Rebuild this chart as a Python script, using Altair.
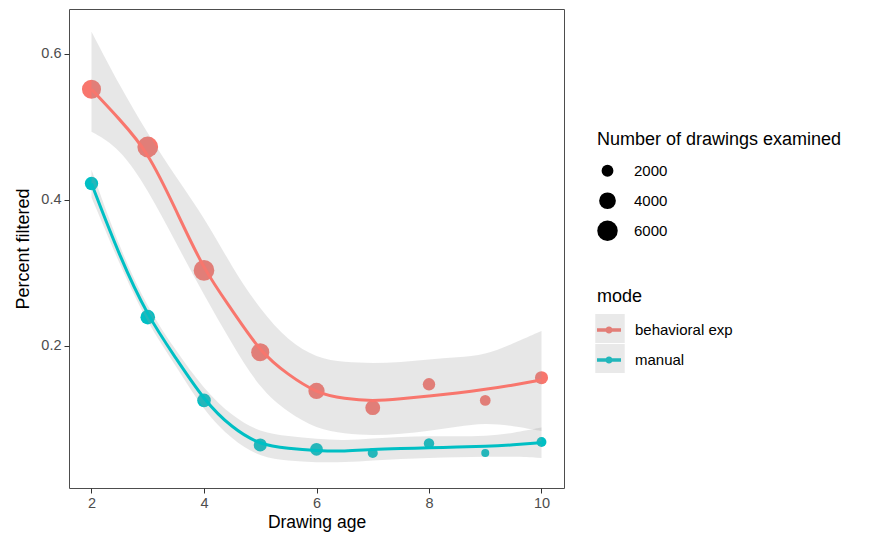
import altair as alt
import pandas as pd

# ---- data ----
modes = ["behavioral exp", "manual"]
colors = ["#F8766D", "#00BFC4"]

ages = [2, 3, 4, 5, 6, 7, 8, 9, 10]
beh_pct = [0.551, 0.472, 0.303, 0.191, 0.138, 0.115, 0.147, 0.125, 0.156]
man_pct = [0.422, 0.239, 0.125, 0.064, 0.058, 0.053, 0.066, 0.053, 0.068]
beh_n = [5200, 6200, 6100, 4700, 3800, 3150, 2200, 1650, 2450]
man_n = [2550, 3050, 2650, 2450, 2300, 1450, 1550, 920, 1380]

smooth_x = [2, 2.5, 3, 3.5, 4, 4.5, 5, 5.5, 6, 6.5, 7, 7.5, 8, 8.5, 9, 9.5, 10]
beh_fit = [0.551, 0.510, 0.466, 0.386, 0.303, 0.249, 0.191, 0.160, 0.135, 0.127,
           0.124, 0.127, 0.131, 0.135, 0.140, 0.146, 0.153]
beh_hi = [0.630, 0.556, 0.490, 0.431, 0.376, 0.307, 0.249, 0.206, 0.183, 0.177,
          0.176, 0.177, 0.181, 0.184, 0.187, 0.203, 0.220]
beh_lo = [0.493, 0.471, 0.414, 0.341, 0.269, 0.202, 0.140, 0.108, 0.086, 0.079,
          0.077, 0.079, 0.083, 0.089, 0.094, 0.090, 0.083]
man_fit = [0.422, 0.322, 0.240, 0.183, 0.125, 0.087, 0.064, 0.059, 0.056, 0.055,
           0.058, 0.059, 0.060, 0.061, 0.062, 0.064, 0.067]
man_hi = [0.441, 0.333, 0.251, 0.193, 0.140, 0.103, 0.081, 0.076, 0.072, 0.070,
          0.073, 0.075, 0.076, 0.076, 0.076, 0.080, 0.088]
man_lo = [0.403, 0.311, 0.229, 0.173, 0.110, 0.071, 0.047, 0.042, 0.040, 0.040,
          0.043, 0.045, 0.046, 0.047, 0.048, 0.048, 0.046]

x_ticks = [2, 4, 6, 8, 10]
y_ticks = [0.2, 0.4, 0.6]
size_breaks = [2000, 4000, 6000]
key_ids = ["key1", "key2"]  # styling keys for the grey legend-key backgrounds

# ---- tables ----
pts = pd.DataFrame({
    "age": ages + ages,
    "pct": beh_pct + man_pct,
    "n": beh_n + man_n,
    "mode": [modes[0]] * len(ages) + [modes[1]] * len(ages),
})
sm = pd.DataFrame({
    "age": smooth_x + smooth_x,
    "fit": beh_fit + man_fit,
    "hi": beh_hi + man_hi,
    "lo": beh_lo + man_lo,
    "mode": [modes[0]] * len(smooth_x) + [modes[1]] * len(smooth_x),
    "key": [key_ids[0]] * len(smooth_x) + [key_ids[1]] * len(smooth_x),
})

FONT = "Liberation Sans"

x_enc = alt.X(
    "age:Q",
    scale=alt.Scale(domain=[1.6, 10.4], nice=False, zero=False),
    axis=alt.Axis(values=x_ticks, title="Drawing age", format="d",
                  titleBaseline="alphabetic", titleY=39, titleFontSize=17.5),
)
y_scale = alt.Scale(domain=[0.005, 0.661], nice=False, zero=False)
y_axis = alt.Axis(values=y_ticks, title="Percent filtered", format=".1f", titlePadding=8)

legend_path = ("M-1,-0.14L1,-0.14L1,0.14L-1,0.14Z "
               "M-0.3,0A0.3,0.3,0,1,1,0.3,0A0.3,0.3,0,1,1,-0.3,0Z")

points = alt.Chart(pts).mark_circle(opacity=1).encode(
    x=x_enc,
    y=alt.Y("pct:Q", scale=y_scale, axis=y_axis),
    fill=alt.Fill("mode:N", scale=alt.Scale(domain=modes, range=colors),
                  legend=alt.Legend(title="mode", orient="none", legendX=528, legendY=279,
                                    symbolType=legend_path, symbolSize=576,
                                    symbolStrokeWidth=0, clipHeight=24,
                                    titlePadding=12, rowPadding=6, labelOffset=14)),
    size=alt.Size("n:Q", scale=alt.Scale(type="linear", domain=[0, 7000], range=[0, 489], zero=True),
                  legend=alt.Legend(title="Number of drawings examined", values=size_breaks,
                                    format="d", orient="none", legendX=528, legendY=122,
                                    symbolFillColor="black", symbolStrokeColor="black",
                                    symbolStrokeWidth=0, symbolOpacity=1, clipHeight=23.5,
                                    titlePadding=10, rowPadding=6, labelOffset=16)),
)

# ribbons; their legend gives the grey key background behind the "mode" keys
bands = alt.Chart(sm).mark_area(opacity=0.24, interpolate="basis").encode(
    x="age:Q",
    y=alt.Y("lo:Q"),
    y2="hi:Q",
    color=alt.Color("key:N", scale=alt.Scale(domain=key_ids, range=["#999999", "#999999"]),
                    legend=alt.Legend(title=None, orient="none", legendX=526, legendY=305,
                                      symbolType="square", symbolSize=870, clipHeight=29,
                                      rowPadding=1, symbolStrokeWidth=0, labelExpr="''",
                                      symbolOpacity=0.22)),
)

lines = alt.Chart(sm).mark_line(strokeWidth=3, interpolate="basis").encode(
    x="age:Q",
    y=alt.Y("fit:Q"),
    stroke=alt.Stroke("mode:N", scale=alt.Scale(domain=modes, range=colors), legend=None),
)

chart = alt.layer(points, bands, lines).properties(
    width=495,
    height=479,
    autosize=alt.AutoSizeParams(type="none"),
    padding={"left": 61, "top": 1, "right": 290, "bottom": 44},
).configure(
    font=FONT
).configure_view(
    stroke="#4D4D4D", strokeWidth=1
).configure_axis(
    grid=False, domain=False, tickSize=5, tickColor="#333333",
    labelColor="#4D4D4D", labelFontSize=14.5, labelPadding=3, labelFont=FONT,
    titleFontSize=18, titleFontWeight="normal", titleColor="black", titleFont=FONT,
).configure_legend(
    titleFontSize=18, titleFontWeight="normal", titleColor="black", titleFont=FONT,
    titleLimit=500, labelFontSize=15, labelColor="black", labelFont=FONT, labelLimit=300,
)

chart.save("out.html", embed_options={"renderer": "svg", "actions": False})
